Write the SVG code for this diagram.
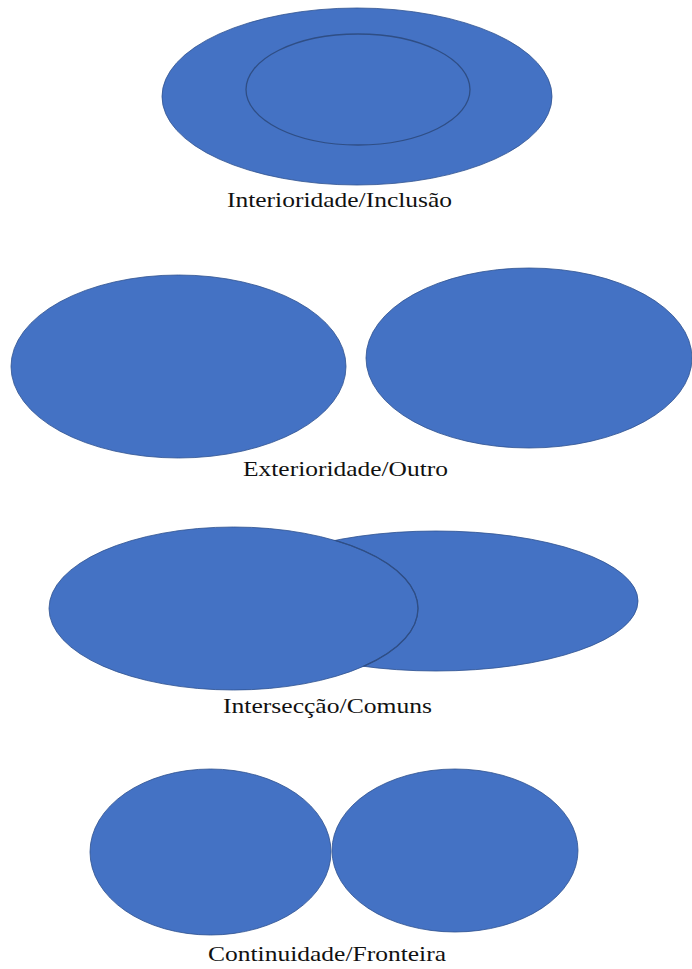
<svg xmlns="http://www.w3.org/2000/svg" width="692" height="969" viewBox="0 0 692 969">
  <style>
    .shape { fill: #4472C4; stroke: #2F528F; stroke-width: 0.8; }
    .edge { fill: #4472C4; stroke: #2F4E85; stroke-width: 1.3; }
    .outline { fill: none; stroke: #2F4E85; stroke-width: 1.3; }
    .label { font-family: "Liberation Serif", "Times New Roman", serif; font-size: 21px; fill: #111; text-anchor: middle; }
  </style>
  <defs>
    <!-- area of the right-hand set in the intersection pair -->
    <clipPath id="rightSet">
      <ellipse cx="436" cy="601" rx="202" ry="70"/>
    </clipPath>
  </defs>
  <rect width="692" height="969" fill="#ffffff"/>

  <!-- Interioridade / Inclusão -->
  <g id="interioridade">
    <ellipse class="shape" cx="357" cy="96.5" rx="195" ry="88.5"/>
    <ellipse class="edge" cx="358" cy="89.5" rx="112" ry="55.5"/>
    <text class="label" x="339.5" y="207" textLength="225" lengthAdjust="spacingAndGlyphs">Interioridade/Inclusão</text>
  </g>

  <!-- Exterioridade / Outro -->
  <g id="exterioridade">
    <ellipse class="shape" cx="178.5" cy="366.5" rx="167.5" ry="91.5"/>
    <ellipse class="shape" cx="529" cy="358" rx="163" ry="90"/>
    <text class="label" x="345.5" y="476" textLength="205" lengthAdjust="spacingAndGlyphs">Exterioridade/Outro</text>
  </g>

  <!-- Intersecção / Comuns -->
  <g id="interseccao">
    <ellipse class="shape" cx="436" cy="601" rx="202" ry="70"/>
    <ellipse class="shape" cx="233.5" cy="608.5" rx="184.5" ry="81.5"/>
    <!-- border of the left set where it crosses the right set -->
    <ellipse class="outline" cx="233.5" cy="608.5" rx="184.5" ry="81.5" clip-path="url(#rightSet)"/>
    <text class="label" x="327.5" y="713" textLength="209" lengthAdjust="spacingAndGlyphs">Intersecção/Comuns</text>
  </g>

  <!-- Continuidade / Fronteira -->
  <g id="continuidade">
    <ellipse class="shape" cx="210.5" cy="852" rx="120.5" ry="83"/>
    <ellipse class="shape" cx="455" cy="850.5" rx="123" ry="81.5"/>
    <text class="label" x="327" y="961" textLength="238" lengthAdjust="spacingAndGlyphs">Continuidade/Fronteira</text>
  </g>

  <g id="connectors"/>
</svg>
